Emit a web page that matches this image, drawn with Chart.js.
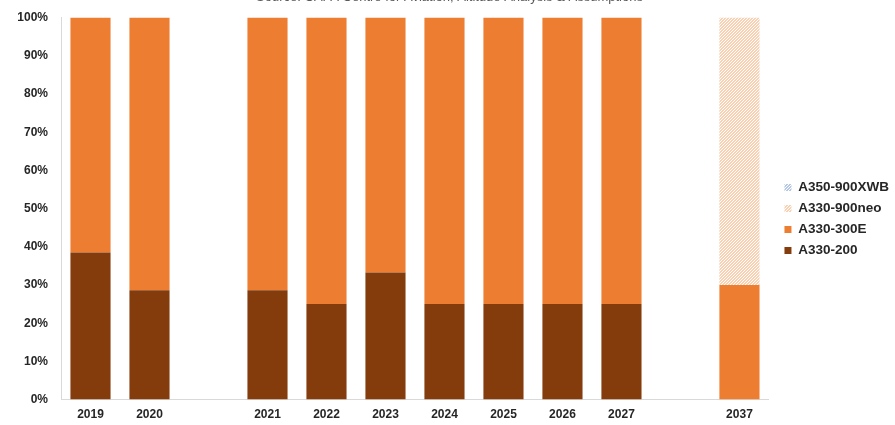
<!DOCTYPE html>
<html><head><meta charset="utf-8">
<script src="https://cdn.jsdelivr.net/npm/chart.js@4/dist/chart.umd.min.js"></script>
<style>
html,body{margin:0;padding:0;background:#fff;}
#wrap{position:relative;width:895px;height:425px;overflow:hidden;}
#c{position:absolute;left:0;top:-10px;}
</style></head><body>
<div id="wrap"><canvas id="c" width="895" height="440"></canvas></div>
<script>
const categories = ['2019','2020','','2021','2022','2023','2024','2025','2026','2027','','2037'];
const a330_200   = [38.5, 28.6, null, 28.6, 25, 33.3, 25, 25, 25, 25, null, 0];
const a330_300E  = [61.5, 71.4, null, 71.4, 75, 66.7, 75, 75, 75, 75, null, 30];
const a330_900neo= [0, 0, null, 0, 0, 0, 0, 0, 0, 0, null, 70];
const a350_900XWB= [0, 0, null, 0, 0, 0, 0, 0, 0, 0, null, 0];
const yTicks = [0,10,20,30,40,50,60,70,80,90,100];

const ctx=document.getElementById('c').getContext('2d');
function hatch(fg){
  const p=document.createElement('canvas'); p.width=3; p.height=3;
  const g=p.getContext('2d');
  g.fillStyle='#ffffff'; g.fillRect(0,0,3,3);
  g.fillStyle=fg;
  for(let i=0;i<3;i++){ g.fillRect(i,(2-i+3)%3,1,1); g.fillRect(i,(3-i+3)%3,1,1); }
  return ctx.createPattern(p,'repeat');
}
const neoPat=hatch('#f9d0b2');
const xwbPat=hatch('#b4c7e7');

Chart.defaults.font.family='"Liberation Sans", Arial, sans-serif';
new Chart(ctx,{
  type:'bar',
  data:{labels:categories,datasets:[
    {label:'A330-200',data:a330_200,backgroundColor:'#843c0c'},
    {label:'A330-300E',data:a330_300E,backgroundColor:'#ed7d31'},
    {label:'A330-900neo',data:a330_900neo,backgroundColor:neoPat},
    {label:'A350-900XWB',data:a350_900XWB,backgroundColor:xwbPat}
  ]},
  options:{
    responsive:false,animation:false,
    layout:{padding:{left:0,right:-4,top:0,bottom:0}},
    datasets:{bar:{barPercentage:0.68,categoryPercentage:1}},
    plugins:{
      title:{display:true,text:'Source: CAPA Centre for Aviation, Altitude Analysis & Assumptions',
        color:'#595959',font:{size:13,weight:'normal'},padding:{top:0,bottom:12}},
      legend:{position:'right',reverse:true,align:'center',
        title:{display:true,text:' ',font:{size:10},padding:{top:0,bottom:6}},
        labels:{boxWidth:7,boxHeight:7,padding:7.5,color:'#262626',font:{size:13.5,weight:'bold'}}},
      tooltip:{enabled:false}
    },
    scales:{
      x:{stacked:true,grid:{display:false,drawTicks:false},border:{color:'#d9d9d9'},
         ticks:{color:'#262626',font:{size:12,weight:'bold'},padding:8,autoSkip:false,maxRotation:0}},
      y:{stacked:true,min:0,max:100,grid:{display:false,drawTicks:false},border:{color:'#d9d9d9'},
         afterFit:(s)=>{s.width=61;},
         afterBuildTicks:(s)=>{s.ticks=yTicks.map(v=>({value:v}));},
         ticks:{color:'#262626',font:{size:12,weight:'bold'},padding:13,callback:v=>v+'%'}},
      gap:{type:'linear',position:'right',display:true,min:0,max:100,
         grid:{display:false,drawTicks:false},border:{display:false},ticks:{display:false},
         afterFit:(s)=>{s.width=8;}}
    }
  }
});
</script></body></html>
